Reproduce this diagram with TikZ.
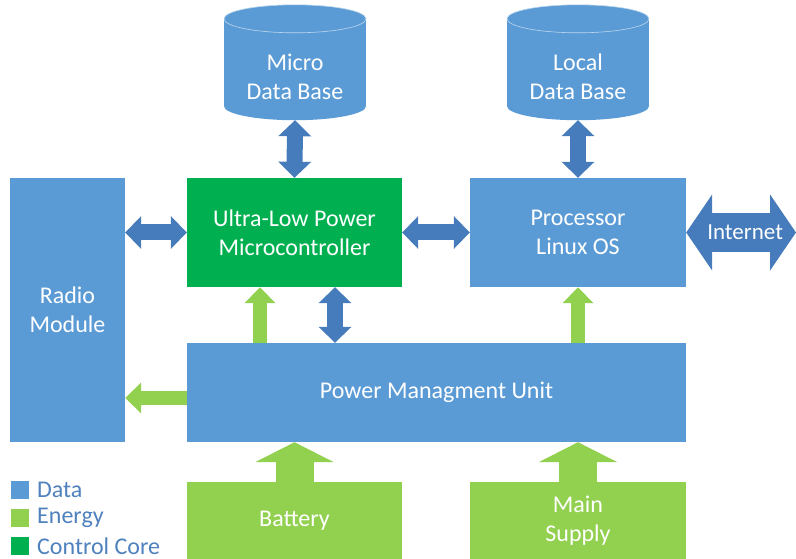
\documentclass[tikz,border=0pt]{standalone}
\usepackage{fontspec}
\setmainfont{Carlito}
\usetikzlibrary{arrows.meta,calc}

\definecolor{datablue}{RGB}{91,155,213}
\definecolor{arrowblue}{RGB}{70,124,187}
\definecolor{energygreen}{RGB}{146,208,80}
\definecolor{coregreen}{RGB}{0,176,80}
\definecolor{keytext}{RGB}{79,129,189}

\tikzset{
  box/.style={draw=none, text=white, align=center, inner sep=0pt, font=\fontsize{24}{29}\selectfont},
  databox/.style={box, fill=datablue},
  corebox/.style={box, fill=coregreen},
  energybox/.style={box, fill=energygreen},
  dbface/.style={box, minimum width=142pt, minimum height=87pt},
  dataarrow/.style={draw=arrowblue, line width=16pt, line cap=butt,
    {Triangle[length=16pt,width=32pt]}-{Triangle[length=16pt,width=32pt]}},
  energyarrow/.style={draw=energygreen, line width=14pt, line cap=butt, -{Triangle[length=16pt,width=30pt]}},
  supplyarrow/.style={draw=energygreen, line width=38pt, line cap=butt, -{Triangle[length=20pt,width=78pt]}},
  netarrow/.style={draw=arrowblue, line width=39pt, line cap=butt,
    {Triangle[length=26pt,width=75pt]}-{Triangle[length=26pt,width=75pt]}},
  keysq/.style={inner sep=0pt, minimum size=18pt},
  keytxt/.style={anchor=west, inner sep=0pt, text=keytext, font=\fontsize{24}{26}\selectfont},
}

\begin{document}
\begin{tikzpicture}[x=1pt,y=-1pt]
  \useasboundingbox (0,0) rectangle (796,559);

  % data bases (cylinders behind their text)
  \path (295,76.5) node (mdb) [dbface] {} (578,76.5) node (ldb) [dbface] {};
  \foreach \db in {mdb,ldb} {
    \fill[datablue] ($(\db.north west)+(0,-14)$) rectangle ($(\db.south east)+(0,-14)$);
    \fill[datablue] ($(\db.south)+(0,-14)$) ellipse[x radius=71pt, y radius=14pt];
    \filldraw[fill=datablue, draw=white!60!datablue, line width=0.6pt] ($(\db.north)+(0,-14)$) ellipse[x radius=71pt, y radius=14pt];
  }
  \node (mdbtxt) at (mdb.center) [box] {Micro\\Data Base};
  \node (ldbtxt) at (ldb.center) [box] {Local\\Data Base};

  % blocks
  \node (radio) at (67.5,310) [databox, minimum width=115pt, minimum height=264pt] {Radio\\Module};
  \node (micro) at (294.5,232.5) [corebox, minimum width=215pt, minimum height=109pt] {Ultra-Low Power\\Microcontroller};
  \node (proc) at (578,232.5) [databox, minimum width=216pt, minimum height=109pt] {Processor\\Linux OS};
  \node (power) at (436.5,392.5) [databox, minimum width=499pt, minimum height=99pt] {Power Managment Unit};
  \node (battery) at (294.5,520.5) [energybox, minimum width=215pt, minimum height=77pt] {Battery};
  \node (supply) at (578,520.5) [energybox, minimum width=216pt, minimum height=77pt] {Main\\Supply};

  % data links
  \draw[dataarrow] (mdb.south) -- (micro.north);
  \draw[dataarrow] (ldb.south) -- (proc.north);
  \draw[dataarrow] (radio.east |- micro.west) -- (micro.west);
  \draw[dataarrow] (micro.east) -- (proc.west);
  \coordinate (d1) at (335,0);
  \draw[dataarrow] (power.north -| d1) -- (micro.south -| d1);

  % energy links
  \coordinate (e1) at (260,0);
  \coordinate (e2) at (0,398);
  \draw[energyarrow] (power.north -| e1) -- (micro.south -| e1);
  \draw[energyarrow] (power.north -| proc.south) -- (proc.south);
  \draw[energyarrow] (power.west |- e2) -- (radio.east |- e2);
  \draw[supplyarrow] (battery.north) -- (battery.north |- power.south);
  \draw[supplyarrow] (supply.north) -- (supply.north |- power.south);

  % internet
  \coordinate (net) at (796,232.5);
  \draw[netarrow] (proc.east) -- (net) node[midway, xshift=4pt, text=white, font=\fontsize{23}{26}\selectfont] (nettxt) {Internet};

  % legend
  \node (keydata) at (20,490) [keysq, fill=datablue] {};
  \node (keyenergy) at (20,518) [keysq, fill=energygreen] {};
  \node (keycore) at (20,546) [keysq, fill=coregreen] {};
  \node (keydatatxt) at (37,490) [keytxt] {Data};
  \node (keyenergytxt) at (37,518) [keytxt] {Energy};
  \node (keycoretxt) at (37,546) [keytxt] {Control Core};
\end{tikzpicture}
\end{document}
